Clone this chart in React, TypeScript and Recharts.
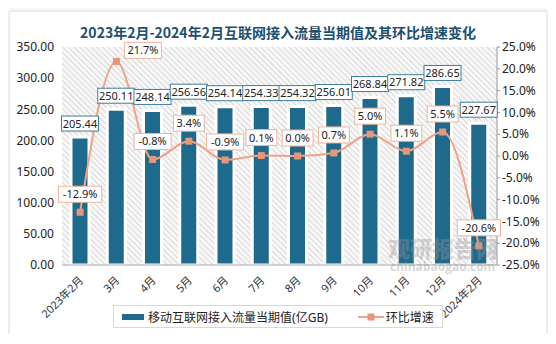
import React from "react";
import {
  ComposedChart,
  Bar,
  Line,
  XAxis,
  YAxis,
  CartesianGrid,
  Legend,
  LabelList,
} from "recharts";

const months = ["2023年2月", "3月", "4月", "5月", "6月", "7月", "8月", "9月", "10月", "11月", "12月", "2024年2月"];
const traffic = [205.44, 250.11, 248.14, 256.56, 254.14, 254.33, 254.32, 256.01, 268.84, 271.82, 286.65, 227.67];
const growth = [-12.9, 21.7, -0.8, 3.4, -0.9, 0.1, 0.0, 0.7, 5.0, 1.1, 5.5, -20.6];
const leftTicks = [0, 50, 100, 150, 200, 250, 300, 350];
const rightTicks = [-25, -20, -15, -10, -5, 0, 5, 10, 15, 20, 25];

const data = months.map((m, i) => ({ month: m, traffic: traffic[i], growth: growth[i] }));

const BAR = "#1e6a8d";
const LINE = "#f0a386";
const DOT = "#e8967a";
const FONT = "'Noto Sans', 'Noto Sans CJK SC', sans-serif";
const PLOT_TOP = 35;

function BarLabel(props: any) {
  const { x, y, width, value } = props;
  const text = Number(value).toFixed(2);
  const w = 37;
  const cx = x + width / 2;
  return (
    <g>
      <rect x={cx - w / 2} y={y - 21} width={w} height={15} fill="#fff" stroke="#3d7f99" strokeWidth={1} />
      <text x={cx} y={y - 9.5} textAnchor="middle" fontSize={11} fill="#222" fontFamily={FONT}>
        {text}
      </text>
    </g>
  );
}

function LineLabel(props: any) {
  const { x, y, value } = props;
  const text = Number(value).toFixed(1) + "%";
  const w = text.length * 6.2 + 6;
  // near the top edge the box goes to the upper right of the point
  const high = y - 26 < PLOT_TOP;
  const bx = high ? x + 8 : x - w / 2;
  const by = high ? y - 19 : y - 26;
  return (
    <g>
      <rect x={bx} y={by} width={w} height={16} fill="#fff" stroke="#f0b49c" strokeWidth={1} />
      <text x={bx + w / 2} y={by + 12} textAnchor="middle" fontSize={11} fill="#222" fontFamily={FONT}>
        {text}
      </text>
    </g>
  );
}

function SquareDot(props: any) {
  const { cx, cy } = props;
  if (cx == null || cy == null) return null;
  return <rect x={cx - 3.5} y={cy - 3.5} width={7} height={7} fill={DOT} />;
}

function MonthTick(props: any) {
  const { x, y, payload } = props;
  return (
    <text
      x={x + 4}
      y={y + 8}
      transform={`rotate(-45 ${x + 4} ${y + 8})`}
      textAnchor="end"
      fontSize={11}
      fill="#333"
      fontFamily={FONT}
    >
      {payload.value}
    </text>
  );
}

function LegendBox() {
  return (
    <div
      style={{
        display: "flex",
        alignItems: "center",
        justifyContent: "center",
        gap: 30,
        border: "1px solid #d8d8d8",
        width: 330,
        height: 23,
        marginLeft: 103,
        fontFamily: FONT,
        fontSize: 12,
        color: "#222",
        background: "#fff",
        boxSizing: "border-box",
        whiteSpace: "nowrap",
      }}
    >
      <span style={{ display: "flex", alignItems: "center" }}>
        <span style={{ display: "inline-block", width: 22, height: 6, background: BAR, marginRight: 4 }} />
        移动互联网接入流量当期值(亿GB)
      </span>
      <span style={{ display: "flex", alignItems: "center" }}>
        <svg width={26} height={10} style={{ marginRight: 2 }}>
          <line x1={0} y1={5} x2={26} y2={5} stroke={LINE} strokeWidth={2} />
          <rect x={9.5} y={1.5} width={7} height={7} fill={DOT} />
        </svg>
        环比增速
      </span>
    </div>
  );
}

export default function App() {
  return (
    <div
      style={{
        position: "relative",
        width: 536,
        height: 322,
        marginLeft: 2,
        marginTop: 4,
        background: "#fff",
        boxShadow: "0 0 4px 2px #e2e2e2",
      }}
    >
      <div
        style={{
          position: "absolute",
          top: 10,
          left: 0,
          width: 536,
          textAlign: "center",
          fontFamily: "'Noto Sans CJK SC', sans-serif",
          fontWeight: 700,
          fontSize: 14,
          color: "#1d4f6e",
        }}
      >
        2023年2月-2024年2月互联网接入流量当期值及其环比增速变化
      </div>
      <ComposedChart
        width={546}
        height={322}
        data={data}
        margin={{ top: PLOT_TOP, right: 0, bottom: 3, left: 0 }}
        style={{ position: "absolute", left: 0, top: 0 }}
      >
        <defs>
          <pattern id="hatch" width={4} height={4} patternUnits="userSpaceOnUse" patternTransform="rotate(-45)">
            <rect width={4} height={4} fill="#f8f8f8" />
            <line x1={0} y1={0} x2={0} y2={4} stroke="#cdcdcd" strokeWidth={1.5} />
          </pattern>
        </defs>
        <CartesianGrid horizontal={false} vertical={false} fill="url(#hatch)" />
        <XAxis
          dataKey="month"
          interval={0}
          tick={<MonthTick />}
          tickLine={false}
          axisLine={{ stroke: "#aaa" }}
          height={40}
        />
        <YAxis
          yAxisId="left"
          domain={[0, 350]}
          ticks={leftTicks}
          tickFormatter={(v: number) => v.toFixed(2)}
          axisLine={false}
          tickLine={false}
          width={52}
          tick={{ fontSize: 12, fill: "#222", fontFamily: FONT }}
        />
        <YAxis
          yAxisId="right"
          orientation="right"
          domain={[-25, 25]}
          ticks={rightTicks}
          tickFormatter={(v: number) => v.toFixed(1) + "%"}
          axisLine={{ stroke: "#999" }}
          tickLine={{ stroke: "#999" }}
          tickSize={3}
          width={59}
          tick={{ fontSize: 12, fill: "#222", fontFamily: FONT }}
        />
        <Legend verticalAlign="bottom" height={26} content={() => <LegendBox />} />
        <Bar
          yAxisId="left"
          dataKey="traffic"
          fill={BAR}
          stroke="#fff"
          strokeWidth={3}
          barSize={18}
          isAnimationActive={false}
        >
          <LabelList dataKey="traffic" content={<BarLabel />} />
        </Bar>
        <Line
          yAxisId="right"
          dataKey="growth"
          type="monotone"
          stroke={LINE}
          strokeWidth={2}
          dot={<SquareDot />}
          activeDot={false}
          isAnimationActive={false}
        >
          <LabelList dataKey="growth" content={<LineLabel />} />
        </Line>
      </ComposedChart>
      <div
        style={{
          position: "absolute",
          left: 378,
          top: 222,
          fontFamily: "'Noto Sans CJK SC', sans-serif",
          fontWeight: 900,
          fontSize: 22,
          color: "rgba(150,150,150,0.4)",
          lineHeight: "26px",
          pointerEvents: "none",
        }}
      >
        观研报告网
      </div>
      <div
        style={{
          position: "absolute",
          left: 380,
          top: 246,
          fontFamily: "'Open Sans', sans-serif",
          fontWeight: 700,
          fontSize: 12,
          color: "rgba(150,150,150,0.4)",
          pointerEvents: "none",
        }}
      >
        chinabaogao.com
      </div>
    </div>
  );
}
